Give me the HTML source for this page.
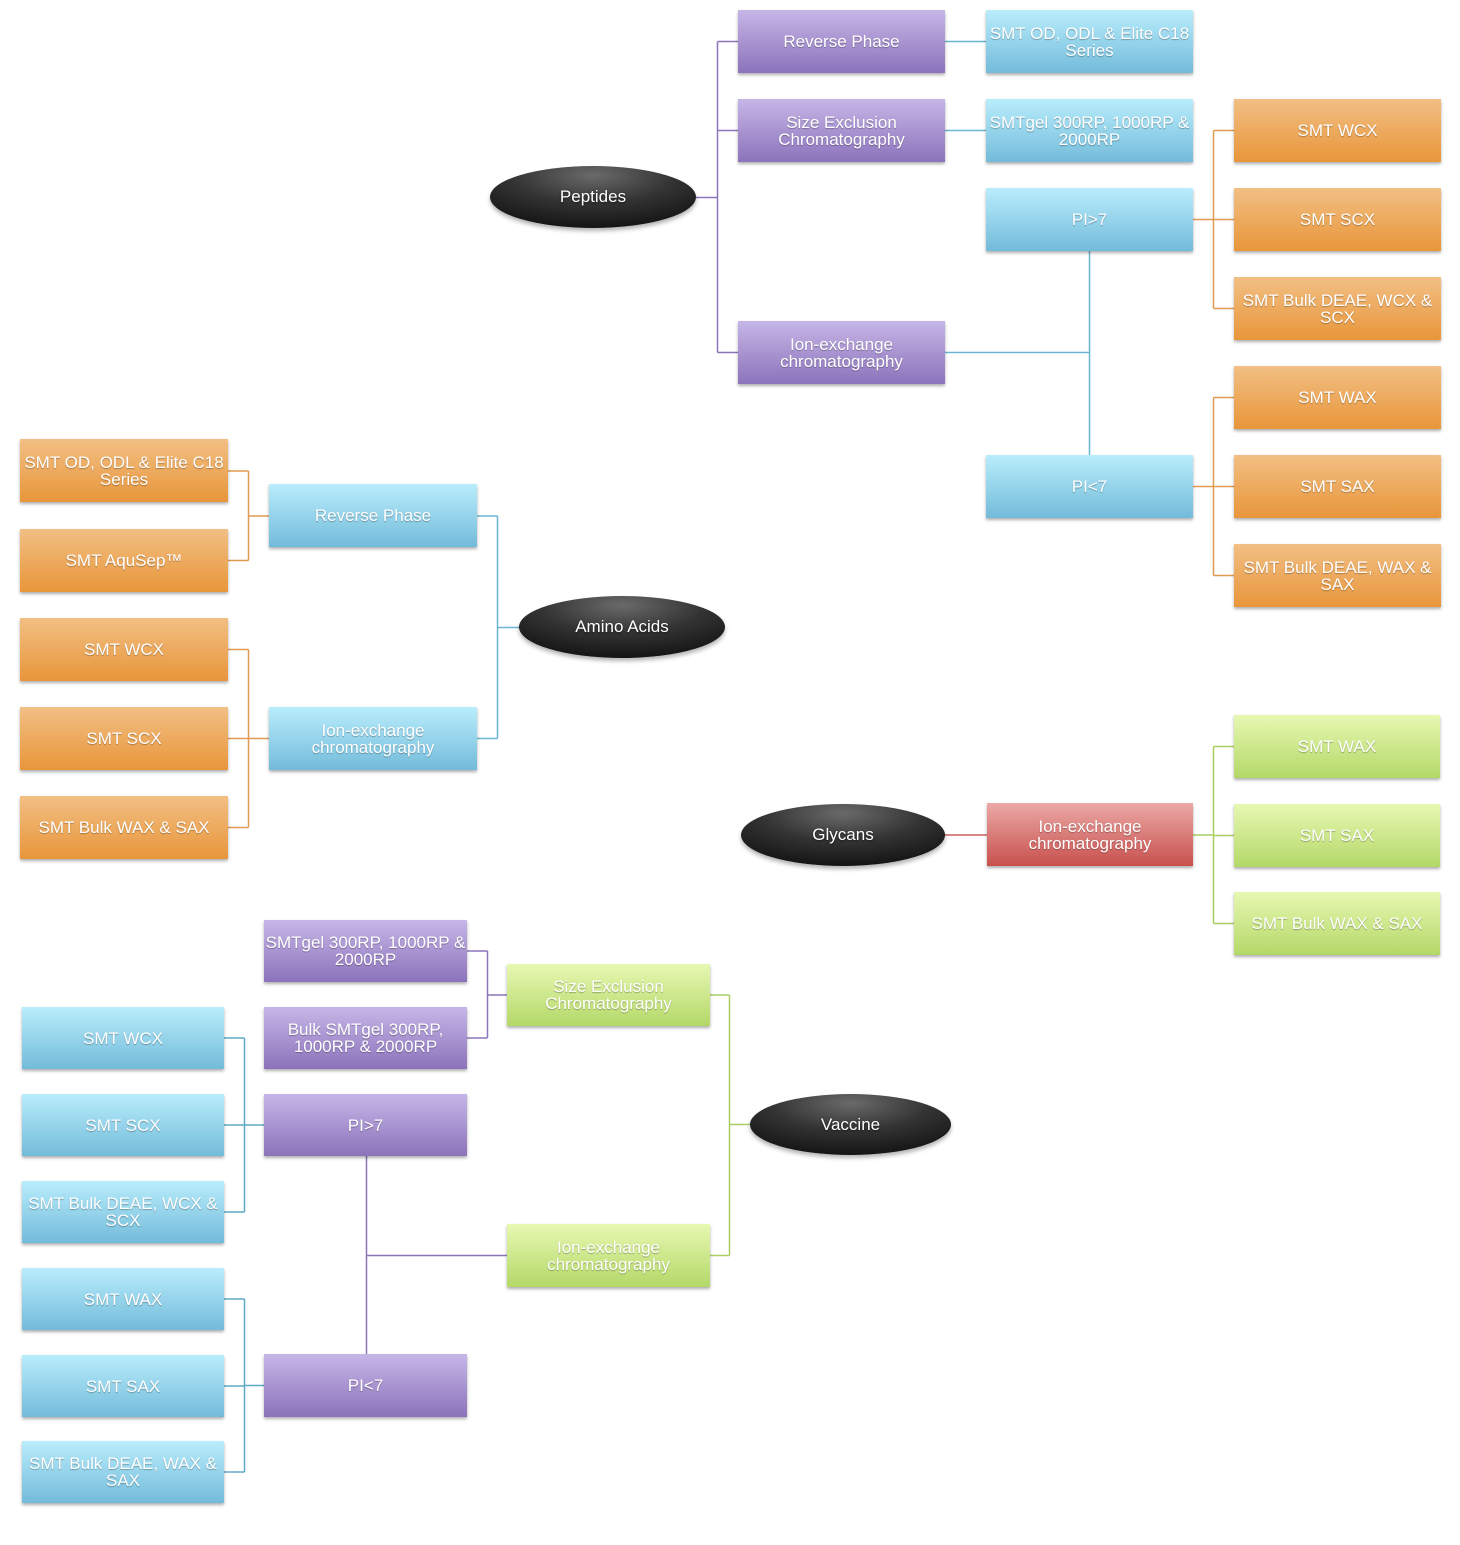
<!DOCTYPE html>
<html><head><meta charset="utf-8">
<style>
html,body{margin:0;padding:0;background:#fff;}
body{width:1460px;height:1545px;position:relative;overflow:hidden;font-family:"Liberation Sans",Arial,sans-serif;}
svg{position:absolute;left:0;top:0;}
.b{position:absolute;display:flex;align-items:center;justify-content:center;text-align:center;color:#fff;font-size:17px;line-height:17px;white-space:nowrap;text-shadow:0 1px 1px rgba(0,0,0,.3);box-shadow:0 2px 3px rgba(0,0,0,.32);height:63px;}
.p{background:linear-gradient(#c6b6e7,#8c73bb);}
.c{background:linear-gradient(#b9edfc,#73bbda);}
.o{background:linear-gradient(#f2bf84,#e8963a);}
.g{background:linear-gradient(#e7f8b2,#b4d868);}
.r{background:linear-gradient(#eba9a6,#c8504d);}
.e{position:absolute;border-radius:50%;background:radial-gradient(ellipse 80% 90% at 50% 15%,#6a6a6a 0%,#333 50%,#111 100%);display:flex;align-items:center;justify-content:center;color:#fff;font-size:17px;text-shadow:0 1px 2px rgba(0,0,0,.6);box-shadow:0 3px 4px rgba(0,0,0,.3);}
</style></head><body>
<svg width="1460" height="1545" fill="none" stroke-width="1.5">
<!-- Peptides -->
<g stroke="#8a76b9">
<path d="M696 197.5H717.5M717.5 41.5V352.5M717.5 41.5H738M717.5 130.5H738M717.5 352.5H738"/>
</g>
<g stroke="#6cb4d3">
<path d="M945 41.5H986M945 130.5H986M945 352.5H1089.5M1089.5 251V455"/>
</g>
<g stroke="#e09a52">
<path d="M1193 219.5H1213.5M1213.5 130.5V308.5M1213.5 130.5H1234M1213.5 219.5H1234M1213.5 308.5H1234"/>
<path d="M1193 486.5H1213.5M1213.5 397.5V575.5M1213.5 397.5H1234M1213.5 486.5H1234M1213.5 575.5H1234"/>
</g>
<!-- Amino acids -->
<g stroke="#6cb4d3">
<path d="M520 627.5H497.5M497.5 516V738.5M497.5 516H477M497.5 738.5H477"/>
</g>
<g stroke="#e09a52">
<path d="M269 516H248.5M248.5 471V560.5M248.5 471H228M248.5 560.5H228"/>
<path d="M269 738.5H248.5M248.5 649.5V827.5M248.5 649.5H228M248.5 738.5H228M248.5 827.5H228"/>
</g>
<!-- Glycans -->
<path stroke="#c9625f" d="M944 835H987"/>
<g stroke="#a9cf62">
<path d="M1193 835H1213.5M1213.5 746.5V923.5M1213.5 746.5H1234M1213.5 835.5H1234M1213.5 923.5H1234"/>
</g>
<!-- Vaccine -->
<g stroke="#a9cf62">
<path d="M750 1124.5H729.5M729.5 995V1255.5M729.5 995H710M729.5 1255.5H710"/>
</g>
<g stroke="#8a76b9">
<path d="M507 995H487.5M487.5 951V1038M487.5 951H467M487.5 1038H467"/>
<path d="M507 1255.5H366.5M366.5 1156V1354"/>
</g>
<g stroke="#5ea9c6">
<path d="M264 1125H244.5M244.5 1038V1212M244.5 1038H224M244.5 1125H224M244.5 1212H224"/>
<path d="M264 1385.5H244.5M244.5 1299V1472M244.5 1299H224M244.5 1386H224M244.5 1472H224"/>
</g>
</svg>

<!-- Peptides -->
<div class="e" style="left:490px;top:166px;width:206px;height:62px;">Peptides</div>
<div class="b p" style="left:738px;top:10px;width:207px;">Reverse Phase</div>
<div class="b p" style="left:738px;top:99px;width:207px;">Size Exclusion<br>Chromatography</div>
<div class="b p" style="left:738px;top:321px;width:207px;">Ion-exchange<br>chromatography</div>
<div class="b c" style="left:986px;top:10px;width:207px;">SMT OD, ODL &amp; Elite C18<br>Series</div>
<div class="b c" style="left:986px;top:99px;width:207px;">SMTgel 300RP, 1000RP &amp;<br>2000RP</div>
<div class="b c" style="left:986px;top:188px;width:207px;">PI&gt;7</div>
<div class="b c" style="left:986px;top:455px;width:207px;">PI&lt;7</div>
<div class="b o" style="left:1234px;top:99px;width:207px;">SMT WCX</div>
<div class="b o" style="left:1234px;top:188px;width:207px;">SMT SCX</div>
<div class="b o" style="left:1234px;top:277px;width:207px;">SMT Bulk DEAE, WCX &amp;<br>SCX</div>
<div class="b o" style="left:1234px;top:366px;width:207px;">SMT WAX</div>
<div class="b o" style="left:1234px;top:455px;width:207px;">SMT SAX</div>
<div class="b o" style="left:1234px;top:544px;width:207px;">SMT Bulk DEAE, WAX &amp;<br>SAX</div>

<!-- Amino Acids -->
<div class="e" style="left:519px;top:596px;width:206px;height:62px;">Amino Acids</div>
<div class="b c" style="left:269px;top:484px;width:208px;">Reverse Phase</div>
<div class="b c" style="left:269px;top:707px;width:208px;">Ion-exchange<br>chromatography</div>
<div class="b o" style="left:20px;top:439px;width:208px;">SMT OD, ODL &amp; Elite C18<br>Series</div>
<div class="b o" style="left:20px;top:529px;width:208px;">SMT AquSep™</div>
<div class="b o" style="left:20px;top:618px;width:208px;">SMT WCX</div>
<div class="b o" style="left:20px;top:707px;width:208px;">SMT SCX</div>
<div class="b o" style="left:20px;top:796px;width:208px;">SMT Bulk WAX &amp; SAX</div>

<!-- Glycans -->
<div class="e" style="left:741px;top:804px;width:204px;height:62px;">Glycans</div>
<div class="b r" style="left:987px;top:803px;width:206px;">Ion-exchange<br>chromatography</div>
<div class="b g" style="left:1234px;top:715px;width:206px;">SMT WAX</div>
<div class="b g" style="left:1234px;top:804px;width:206px;">SMT SAX</div>
<div class="b g" style="left:1234px;top:892px;width:206px;">SMT Bulk WAX &amp; SAX</div>

<!-- Vaccine -->
<div class="e" style="left:750px;top:1094px;width:201px;height:61px;">Vaccine</div>
<div class="b g" style="left:507px;top:964px;width:203px;height:62px;">Size Exclusion<br>Chromatography</div>
<div class="b g" style="left:507px;top:1224px;width:203px;">Ion-exchange<br>chromatography</div>
<div class="b p" style="left:264px;top:920px;width:203px;height:62px;">SMTgel 300RP, 1000RP &amp;<br>2000RP</div>
<div class="b p" style="left:264px;top:1007px;width:203px;height:62px;">Bulk SMTgel 300RP,<br>1000RP &amp; 2000RP</div>
<div class="b p" style="left:264px;top:1094px;width:203px;height:62px;">PI&gt;7</div>
<div class="b p" style="left:264px;top:1354px;width:203px;">PI&lt;7</div>
<div class="b c" style="left:22px;top:1007px;width:202px;height:62px;">SMT WCX</div>
<div class="b c" style="left:22px;top:1094px;width:202px;height:62px;">SMT SCX</div>
<div class="b c" style="left:22px;top:1181px;width:202px;height:62px;">SMT Bulk DEAE, WCX &amp;<br>SCX</div>
<div class="b c" style="left:22px;top:1268px;width:202px;height:62px;">SMT WAX</div>
<div class="b c" style="left:22px;top:1355px;width:202px;height:62px;">SMT SAX</div>
<div class="b c" style="left:22px;top:1441px;width:202px;height:62px;">SMT Bulk DEAE, WAX &amp;<br>SAX</div>
</body></html>
